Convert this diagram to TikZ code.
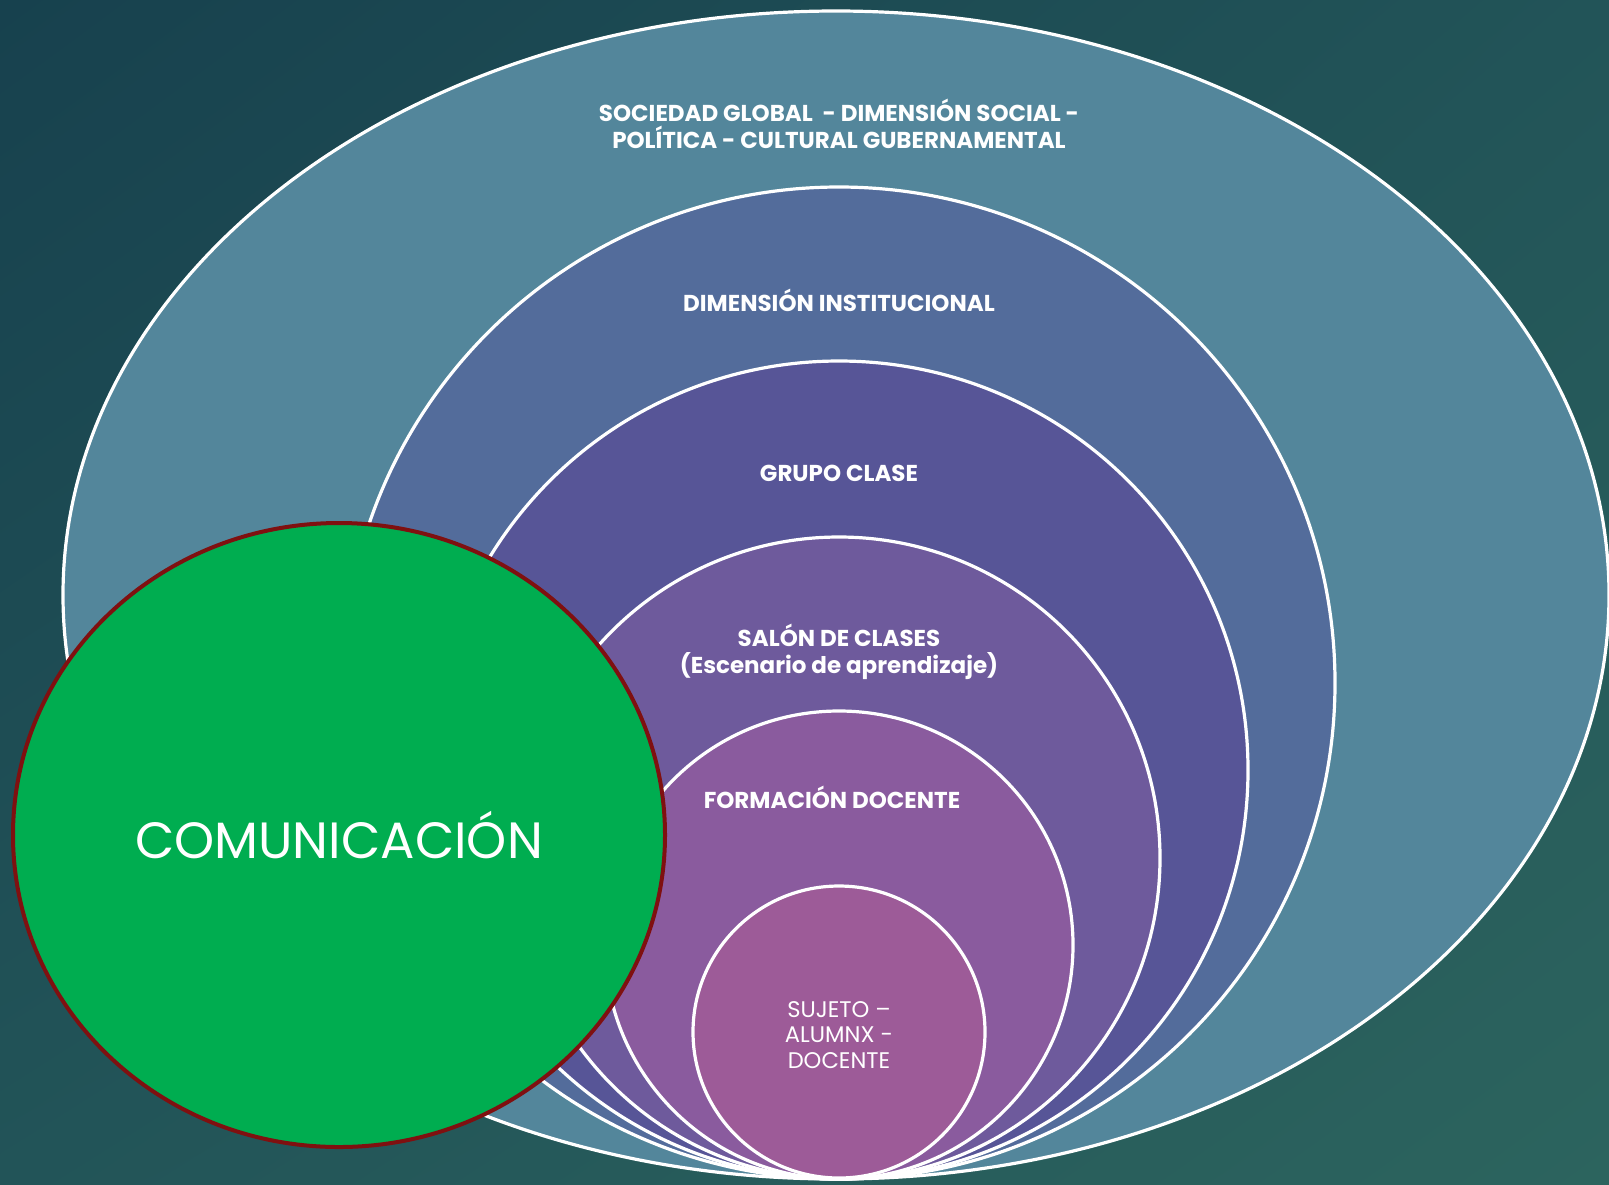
\documentclass[tikz,border=0pt]{standalone}
\usepackage{fontspec}
\setmainfont{Poppins}
\usepackage{tikz}
\usetikzlibrary{positioning, shadings}

\definecolor{bgdark}{RGB}{23,65,78}
\definecolor{bgmid}{RGB}{34,84,88}
\definecolor{bglight}{RGB}{44,100,94}
\definecolor{ringA}{RGB}{83,134,155}
\definecolor{ringB}{RGB}{83,108,155}
\definecolor{ringC}{RGB}{87,85,151}
\definecolor{ringD}{RGB}{110,90,156}
\definecolor{ringE}{RGB}{138,91,158}
\definecolor{ringF}{RGB}{157,91,152}
\definecolor{comgreen}{RGB}{0,173,80}
\definecolor{comedge}{RGB}{127,16,16}

\tikzset{
  ring/.style={draw=white, line width=1.6pt},
  lbl/.style={text=white, font=\fontsize{11.5}{13.5}\selectfont\bfseries, align=center, inner sep=0.75pt},
}

\begin{document}
\begin{tikzpicture}[x=0.5pt,y=0.5pt,yscale=-1,xscale=1]
\useasboundingbox (0,0) rectangle (1609,1184);
% background
\shade[upper left=bgdark, upper right=bgmid, lower left=bgmid, lower right=bglight] (0,0) rectangle (1609,1184);

%Shape: Ellipse [outer]
\draw[ring, fill=ringA] (836,595) ellipse [x radius=773, y radius=584];
%Shape: Circle [rings]
\draw[ring, fill=ringB] (839,683) circle [radius=496];
\draw[ring, fill=ringC] (839,770) circle [radius=409];
\draw[ring, fill=ringD] (839,858) circle [radius=321];
\draw[ring, fill=ringE] (839,945) circle [radius=234];
\draw[ring, fill=ringF] (839,1032) circle [radius=146];

%Shape: Ellipse [green]
\draw[draw=comedge, line width=2pt, fill=comgreen] (339,835) ellipse [x radius=326, y radius=312];

% Text Node
\node[lbl] (sociedad) at (839,124) {SOCIEDAD GLOBAL\ \ - DIMENSIÓN SOCIAL -\\POLÍTICA - CULTURAL GUBERNAMENTAL};
% Text Node
\node[lbl] (institucional) at (839,300) {DIMENSIÓN INSTITUCIONAL};
% Text Node
\node[lbl] (grupo) at (839,473) {GRUPO CLASE};
% Text Node
\node[lbl] (salon) at (839,652) {SALÓN DE CLASES\\(Escenario de aprendizaje)};
% Text Node
\node[lbl] (formacion) at (832,797) {FORMACIÓN DOCENTE};
% Text Node
\node[text=white, font=\fontsize{11.3}{12.7}\selectfont, align=center] (sujeto) at (839,1035) {SUJETO –\\ALUMNX -\\DOCENTE};
% Text Node
\node[text=white, font=\fontsize{25.5}{30}\selectfont] (comunicacion) at (339,835) {COMUNICACIÓN};
\end{tikzpicture}
\end{document}
